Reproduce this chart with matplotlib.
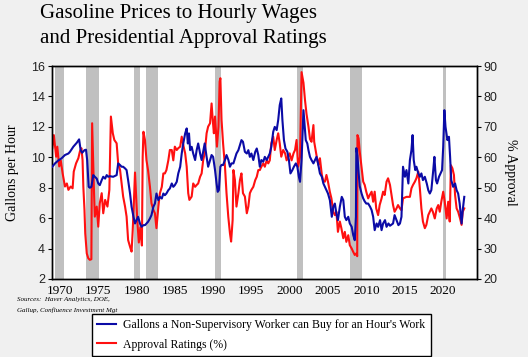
import matplotlib
matplotlib.use("Agg")
import matplotlib.pyplot as plt
import numpy as np

# gallons of gasoline per hour of work (left axis)
gal_years = [1969.0, 1969.35, 1969.8, 1970.2, 1970.65, 1971.1, 1971.3, 1971.75, 1972.2, 1972.5,
             1972.7, 1972.9, 1973.2, 1973.4, 1973.55, 1973.75, 1973.9, 1974.1, 1974.35, 1974.55,
             1974.8, 1975.0, 1975.2, 1975.45, 1975.65, 1975.9, 1976.1, 1976.3, 1976.5, 1976.95,
             1977.4, 1977.6, 1977.85, 1978.05, 1978.25, 1978.5, 1978.7, 1978.9, 1979.15, 1979.35,
             1979.6, 1979.8, 1980.0, 1980.2, 1980.45, 1980.65, 1980.9, 1981.1, 1981.3, 1981.5,
             1981.75, 1981.95, 1982.2, 1982.4, 1982.6, 1982.85, 1983.05, 1983.3, 1983.5, 1983.7,
             1983.9, 1984.15, 1984.35, 1984.6, 1984.8, 1985.0, 1985.25, 1985.45, 1985.7, 1985.9,
             1986.1, 1986.35, 1986.55, 1986.7, 1986.85, 1987.0, 1987.2, 1987.4, 1987.65, 1987.85,
             1988.05, 1988.3, 1988.5, 1988.7, 1988.9, 1989.15, 1989.35, 1989.6, 1989.8, 1990.0,
             1990.25, 1990.45, 1990.6, 1990.75, 1990.95, 1991.1, 1991.3, 1991.55, 1991.75, 1992.0,
             1992.2, 1992.4, 1992.65, 1992.85, 1993.05, 1993.3, 1993.5, 1993.7, 1993.9, 1994.15,
             1994.4, 1994.6, 1994.8, 1995.0, 1995.25, 1995.5, 1995.7, 1995.9, 1996.1, 1996.3,
             1996.55, 1996.75, 1997.0, 1997.2, 1997.4, 1997.6, 1997.85, 1998.05, 1998.3, 1998.5,
             1998.7, 1998.9, 1999.05, 1999.25, 1999.45, 1999.7, 1999.9, 2000.1, 2000.35, 2000.55,
             2000.8, 2001.0, 2001.2, 2001.35, 2001.55, 2001.8, 2001.9, 2002.1, 2002.3, 2002.45,
             2002.65, 2002.85, 2003.1, 2003.3, 2003.5, 2003.7, 2003.95, 2004.2, 2004.4, 2004.6,
             2004.8, 2005.0, 2005.25, 2005.5, 2005.7, 2005.9, 2006.1, 2006.3, 2006.55, 2006.8,
             2007.0, 2007.2, 2007.4, 2007.65, 2007.85, 2008.1, 2008.3, 2008.5, 2008.65, 2008.7,
             2008.85, 2009.0, 2009.15, 2009.4, 2009.6, 2009.8, 2010.0, 2010.25, 2010.5, 2010.7,
             2010.9, 2011.1, 2011.35, 2011.55, 2011.8, 2012.0, 2012.2, 2012.45, 2012.65, 2012.9,
             2013.1, 2013.5, 2013.7, 2013.95, 2014.2, 2014.4, 2014.6, 2014.8, 2015.05, 2015.25,
             2015.5, 2015.7, 2015.9, 2016.05, 2016.2, 2016.4, 2016.55, 2016.8, 2017.0, 2017.2,
             2017.4, 2017.65, 2017.9, 2018.1, 2018.3, 2018.5, 2018.75, 2018.9, 2019.1, 2019.25,
             2019.5, 2019.7, 2019.9, 2020.05, 2020.2, 2020.35, 2020.6, 2020.8, 2020.95, 2021.1,
             2021.35, 2021.6, 2021.8, 2022.0, 2022.2, 2022.45, 2022.6, 2022.8]
gal_values = [9.38, 9.6, 9.8, 9.93, 10.15, 10.25, 10.36, 10.7, 10.96, 11.18,
              10.47, 10.3, 10.47, 10.5, 9.82, 8.06, 8.0, 8.06, 8.83, 8.72,
              8.6, 8.28, 8.17, 8.5, 8.72, 8.6, 8.83, 8.72, 8.76, 8.72,
              8.83, 9.6, 9.49, 9.38, 9.38, 9.27, 9.16, 8.5, 7.62, 6.75,
              6.09, 5.65, 5.87, 6.09, 5.65, 5.43, 5.54, 5.54, 5.65, 5.76,
              5.98, 6.2, 6.75, 6.96, 7.62, 7.18, 7.4, 7.29, 7.62, 7.51,
              7.62, 7.84, 7.95, 8.28, 8.06, 8.17, 8.39, 8.94, 9.38, 10.25,
              10.91, 11.57, 11.9, 10.91, 11.57, 10.47, 10.69, 10.25, 9.82, 10.47,
              10.91, 10.25, 9.82, 10.36, 10.91, 10.03, 9.38, 9.82, 10.15, 10.03,
              9.16, 8.28, 7.73, 7.84, 9.38, 9.5, 9.49, 9.82, 10.15, 9.82,
              9.38, 9.6, 9.6, 9.93, 10.25, 10.47, 10.8, 11.13, 11.02, 10.36,
              10.25, 10.47, 10.03, 10.25, 9.82, 10.36, 10.58, 10.15, 9.38, 9.82,
              9.71, 10.03, 9.82, 10.03, 10.25, 10.69, 11.68, 12.0, 11.79, 12.45,
              13.43, 13.87, 12.45, 11.13, 10.58, 10.36, 9.82, 8.94, 9.16, 9.38,
              9.6, 9.38, 8.72, 8.39, 9.82, 13.1, 12.45, 11.13, 10.91, 10.47,
              10.03, 9.82, 9.6, 9.82, 10.03, 9.6, 8.94, 8.72, 8.28, 8.06,
              7.84, 7.62, 7.18, 6.09, 6.75, 6.96, 6.3, 5.87, 6.75, 7.4,
              7.18, 6.09, 5.87, 6.09, 5.65, 5.43, 4.88, 4.55, 6.09, 10.6,
              10.1, 9.0, 8.1, 7.6, 7.3, 7.1, 6.96, 6.96, 6.75, 6.53,
              6.09, 5.21, 5.65, 5.43, 5.87, 5.21, 5.65, 5.87, 5.43, 5.65,
              5.5, 5.65, 6.2, 5.87, 5.54, 5.65, 6.09, 9.38, 8.72, 9.16,
              8.28, 9.82, 10.47, 11.46, 9.82, 9.16, 9.38, 8.94, 8.72, 8.94,
              8.5, 8.72, 8.28, 7.84, 7.62, 7.84, 9.16, 10.03, 8.5, 8.28,
              8.72, 8.94, 9.16, 10.69, 13.1, 12.0, 11.13, 11.35, 10.03, 8.5,
              8.06, 8.28, 7.84, 7.62, 6.96, 5.65, 6.53, 7.4]

# presidential approval rating, % (right axis)
appr_years = [1969.0, 1969.2, 1969.5, 1969.65, 1969.9, 1970.1, 1970.35, 1970.65, 1970.9, 1971.1,
              1971.4, 1971.65, 1971.8, 1972.1, 1972.4, 1972.6, 1972.8, 1972.95, 1973.05, 1973.2,
              1973.3, 1973.5, 1973.7, 1973.9, 1974.1, 1974.2, 1974.45, 1974.55, 1974.8, 1975.0,
              1975.2, 1975.45, 1975.65, 1975.9, 1976.2, 1976.45, 1976.65, 1976.9, 1977.1, 1977.4,
              1977.6, 1977.85, 1978.05, 1978.25, 1978.5, 1978.7, 1978.9, 1979.15, 1979.35, 1979.5,
              1979.65, 1979.8, 1979.95, 1980.1, 1980.3, 1980.5, 1980.7, 1980.8, 1980.9, 1981.1,
              1981.3, 1981.5, 1981.75, 1981.95, 1982.2, 1982.4, 1982.6, 1982.85, 1983.05, 1983.3,
              1983.5, 1983.7, 1983.9, 1984.15, 1984.35, 1984.6, 1984.8, 1985.0, 1985.25, 1985.45,
              1985.7, 1985.9, 1986.15, 1986.35, 1986.55, 1986.75, 1986.9, 1987.2, 1987.4, 1987.65,
              1987.85, 1988.05, 1988.3, 1988.5, 1988.7, 1988.9, 1989.15, 1989.35, 1989.6, 1989.8,
              1989.95, 1990.1, 1990.25, 1990.5, 1990.7, 1990.85, 1990.95, 1991.1, 1991.3, 1991.55,
              1991.75, 1991.98, 1992.2, 1992.35, 1992.55, 1992.65, 1992.85, 1993.05, 1993.3, 1993.5,
              1993.7, 1993.9, 1994.15, 1994.4, 1994.6, 1994.8, 1995.0, 1995.25, 1995.5, 1995.7,
              1995.9, 1996.1, 1996.3, 1996.55, 1996.75, 1997.0, 1997.2, 1997.4, 1997.6, 1997.85,
              1998.05, 1998.3, 1998.5, 1998.7, 1998.9, 1999.15, 1999.4, 1999.6, 1999.8, 2000.0,
              2000.25, 2000.5, 2000.7, 2000.9, 2001.1, 2001.35, 2001.55, 2001.8, 2002.0, 2002.2,
              2002.45, 2002.65, 2002.85, 2003.1, 2003.2, 2003.5, 2003.75, 2003.95, 2004.2, 2004.4,
              2004.6, 2004.8, 2005.0, 2005.25, 2005.45, 2005.7, 2005.9, 2006.1, 2006.3, 2006.55,
              2006.75, 2007.0, 2007.2, 2007.4, 2007.65, 2007.85, 2008.1, 2008.3, 2008.5, 2008.7,
              2008.82, 2008.85, 2009.0, 2009.15, 2009.35, 2009.6, 2009.8, 2010.0, 2010.25, 2010.45,
              2010.7, 2010.9, 2011.1, 2011.3, 2011.55, 2011.75, 2012.0, 2012.2, 2012.4, 2012.65,
              2012.85, 2013.1, 2013.3, 2013.5, 2013.7, 2013.95, 2014.15, 2014.4, 2014.6, 2014.8,
              2015.25, 2015.7, 2015.9, 2016.1, 2016.35, 2016.55, 2016.8, 2017.0, 2017.2, 2017.4,
              2017.65, 2017.85, 2018.1, 2018.3, 2018.5, 2018.7, 2018.95, 2019.2, 2019.4, 2019.6,
              2019.8, 2020.05, 2020.25, 2020.5, 2020.7, 2020.9, 2021.05, 2021.25, 2021.45, 2021.6,
              2021.8, 2022.0, 2022.25, 2022.45, 2022.6, 2022.8]
appr_values = [63, 67.3, 60.2, 63.5, 57, 59, 54.7, 50.4, 51.4, 49.3,
               50.4, 49.8, 55.3, 58, 59.7, 61.9, 63, 59.1, 50.4, 42.7,
               35, 28.4, 26.8, 26.3, 26.5, 71.2, 48.2, 40.5, 43.8, 37.2,
               44.9, 48.2, 41.6, 46, 43.8, 49.3, 73.4, 67.9, 65.7, 64.6,
               58, 55.8, 51.4, 47.1, 43.8, 40.5, 32.8, 30.6, 29, 36,
               45, 55, 47, 39, 32, 37, 31, 60, 68.4, 65.7,
               59, 55.8, 50.3, 44.9, 42.7, 41.6, 36.7, 43.8, 48.2, 50.3,
               54.7, 54.7, 55.8, 59, 62.4, 62.4, 59, 63.5, 62.4, 63,
               63.5, 66.8, 63.5, 61.3, 56.9, 48.2, 46, 47.1, 51.4, 50.3,
               50.9, 51.4, 53.6, 54.7, 59, 61.3, 67.9, 70.1, 71.2, 77.7,
               72.3, 67.9, 73.4, 63.5, 70.1, 84.9, 86, 72.3, 64.6, 56.9,
               48.2, 40.5, 35, 32.3, 39.4, 55.8, 52.5, 43.8, 48.2, 52.5,
               54.7, 48.2, 47.1, 41.6, 43.8, 48.2, 49.3, 50.3, 52.5, 53.6,
               55.8, 55.8, 56.9, 58, 56.9, 59, 58, 59, 64.6, 66.8,
               62.4, 65.7, 67.9, 64.6, 60.2, 62.4, 61.3, 59, 60.2, 61.3,
               59, 61.3, 62.4, 65.7, 56.9, 60.2, 88, 84.5, 78.8, 74.2,
               70.1, 66, 65.1, 70.6, 65.1, 60.7, 57.5, 59.7, 54.2, 52,
               52, 54.2, 52, 48.6, 46.5, 42.1, 41, 42.1, 35.5, 38.9,
               36.7, 33.4, 35.5, 32.2, 34.4, 31.1, 30, 28.9, 27.9, 28.4,
               27.5, 67.3, 66.2, 61.9, 57.4, 52, 50.9, 48.7, 46.5, 47.6,
               48.7, 45.4, 48.7, 43.2, 41, 44.3, 46.5, 48.7, 47.6, 52,
               53.1, 50.9, 47.6, 44.3, 42.1, 43.2, 44.3, 43.2, 42.6, 46.5,
               47, 47, 49.8, 50.9, 52, 53.1, 55.3, 49.8, 43.2, 38.9,
               36.7, 37.8, 41, 42.1, 43.2, 42.1, 39.9, 43.2, 44.3, 42.1,
               45.4, 48.7, 45.4, 39.9, 45.4, 38.9, 57.4, 56.4, 54.2, 47.6,
               43.2, 42.1, 39.9, 37.8, 42.1, 43.2]

# recession periods (shaded)
rec_start = [1969.4, 1973.45, 1979.7, 1981.2, 1990.25, 2000.9, 2007.85, 2020.0]
rec_end = [1970.55, 1975.05, 1980.5, 1982.75, 1990.98, 2001.8, 2009.5, 2020.35]

years = np.arange(1970, 2021, 5)

bg = '#f0f0f0'
serif = 'Liberation Serif'
sans = 'Liberation Sans'

fig = plt.figure(figsize=(5.28, 3.57), dpi=100, facecolor=bg)
ax = fig.add_axes([0.0985, 0.2185, 0.804, 0.5965])
ax2 = ax.twinx()

# bars and red line on the lower axes, blue on top
for s, e in zip(rec_start, rec_end):
    ax2.axvspan(s, e, color='#c0c0c0', lw=0, zorder=0)
l2, = ax2.plot(appr_years, appr_values, color='#ff1010', lw=1.5, zorder=2)
l1, = ax.plot(gal_years, gal_values, color='#0b0ba6', lw=1.5, zorder=3)
ax.set_zorder(ax2.get_zorder() + 1)
ax.patch.set_visible(False)
ax2.patch.set_visible(True)
ax2.patch.set_facecolor('white')

ax.set_xlim(1968.96, 2024.4)
ax.set_ylim(2, 16)
ax2.set_ylim(20, 90)
ax.set_yticks(range(2, 17, 2))
ax2.set_yticks(range(20, 91, 10))
ax.set_xticks(years)
ax.set_xticklabels([str(y) for y in years], fontfamily=serif, fontsize=9.5)
ax.tick_params(axis='x', length=0, pad=4)
ax2.tick_params(axis='x', length=0)
ax.tick_params(axis='y', length=3, direction='out', pad=2)
ax2.tick_params(axis='y', length=3, direction='out', pad=2)
for t in ax.get_yticklabels() + ax2.get_yticklabels():
    t.set_fontfamily(sans)
    t.set_fontsize(9)
    t.set_color('#222222')

for a in (ax, ax2):
    for sp in a.spines.values():
        sp.set_color('black')
        sp.set_linewidth(1)

ax.set_ylabel('Gallons per Hour', fontfamily=serif, fontsize=10, labelpad=9)
ax2.set_ylabel('% Approval', fontfamily=serif, fontsize=10, rotation=270, labelpad=14)

fig.text(0.076, 0.962, 'Gasoline Prices to Hourly Wages', fontfamily=serif, fontsize=15, va='center')
fig.text(0.076, 0.893, 'and Presidential Approval Ratings', fontfamily=serif, fontsize=15, va='center')

fig.text(0.032, 0.160, 'Sources:  Haver Analytics, DOE,', fontfamily=serif, fontstyle='italic', fontsize=5, va='center')
fig.text(0.032, 0.131, 'Gallup, Confluence Investment Mgt', fontfamily=serif, fontstyle='italic', fontsize=5, va='center')

leg = fig.legend([l1, l2], ["Gallons a Non-Supervisory Worker can Buy for an Hour's Work", 'Approval Ratings (%)'],
                 loc='upper left', bbox_to_anchor=(0.174, 0.12), borderaxespad=0, fancybox=False,
                 framealpha=1, edgecolor='black', facecolor='white', prop={'family': serif, 'size': 8.5},
                 handlelength=1.6, handletextpad=0.6, labelspacing=0.6, borderpad=0.45)
leg.get_frame().set_linewidth(1)

fig.savefig('out.png', dpi=100, facecolor=bg)
